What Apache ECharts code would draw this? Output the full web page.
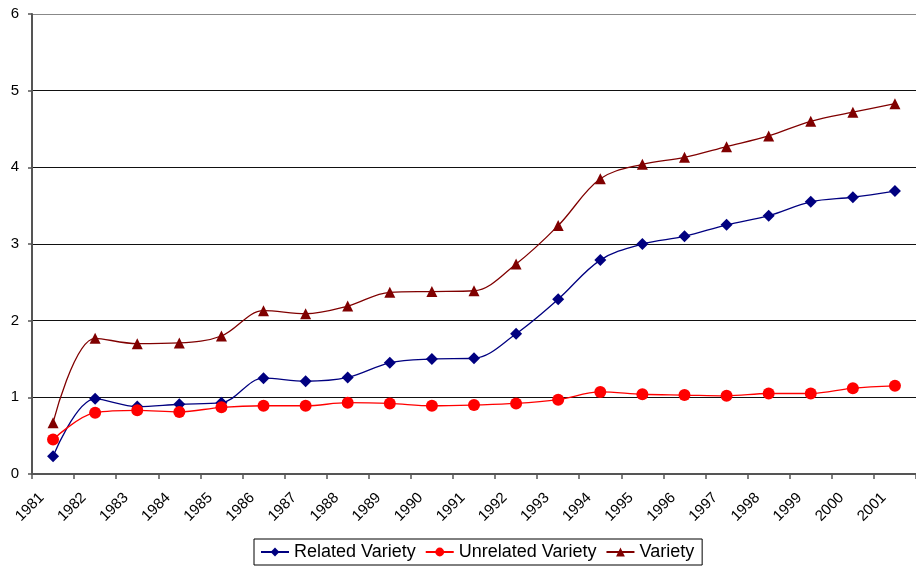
<!DOCTYPE html>
<html>
<head>
<meta charset="utf-8">
<script src="https://cdn.jsdelivr.net/npm/echarts@6/dist/echarts.min.js"></script>
<style>
html,body{margin:0;padding:0;background:#fff;}
#chart{width:916px;height:570px;}
</style>
</head>
<body>
<div id="chart"></div>
<script>
const years = ['1981','1982','1983','1984','1985','1986','1987','1988','1989','1990','1991','1992','1993','1994','1995','1996','1997','1998','1999','2000','2001'];
const relatedVariety = [0.23,0.98,0.88,0.91,0.93,1.25,1.21,1.26,1.45,1.50,1.51,1.83,2.28,2.79,3.00,3.10,3.25,3.37,3.55,3.61,3.69];
const unrelatedVariety = [0.45,0.80,0.83,0.81,0.87,0.89,0.89,0.93,0.92,0.89,0.90,0.92,0.97,1.07,1.04,1.03,1.02,1.05,1.05,1.12,1.15];
const variety = [0.67,1.77,1.70,1.71,1.80,2.13,2.09,2.19,2.37,2.38,2.39,2.74,3.24,3.85,4.04,4.13,4.27,4.41,4.60,4.72,4.83];
const yTicks = [0,1,2,3,4,5,6];

const chart = echarts.init(document.getElementById('chart'), null, {renderer:'canvas'});
const font = 'Liberation Sans, Arial, sans-serif';
function mk(name, data, color, symbol, size){
  return {
    name: name, type: 'line', data: data, smooth: 0.35,
    symbol: symbol, symbolSize: size, showSymbol: true,
    lineStyle: {color: color, width: 1.3},
    itemStyle: {color: color, borderWidth: 0},
    emphasis: {disabled: true},
    z: 3
  };
}
chart.setOption({
  animation: false,
  backgroundColor: '#fff',
  grid: {left: 32, top: 14, right: -11, bottom: 96, containLabel: false},
  legend: {
    left: 254, top: 539,
    padding: [4, 8, 4, 6],
    itemGap: 9, itemWidth: 28, itemHeight: 11,
    borderColor: '#000', borderWidth: 1,
    textStyle: {fontFamily: font, fontSize: 18, color: '#000', padding: [0,0,0,0]},
    data: ['Related Variety','Unrelated Variety','Variety']
  },
  xAxis: {
    type: 'category', data: years, boundaryGap: true,
    axisLine: {show: true, onZero: false, lineStyle: {color: '#555', width: 2}},
    axisTick: {show: true, length: 5, interval: 0, lineStyle: {color: '#555', width: 1.5}},
    axisLabel: {interval: 0, rotate: 45, margin: 10, padding: [0, 16, 0, 0], fontFamily: font, fontSize: 15, color: '#000'},
    splitLine: {show: false}
  },
  yAxis: {
    type: 'value', min: yTicks[0], max: yTicks[yTicks.length-1], interval: 1,
    axisLine: {show: true, lineStyle: {color: '#555', width: 2}},
    axisTick: {show: true, length: 4, lineStyle: {color: '#555', width: 1.5}},
    axisLabel: {margin: 13, fontFamily: font, fontSize: 15, color: '#000'},
    splitLine: {show: true, lineStyle: {color: ['#000','#111','#111','#111','#111','#111','#888'], width: 1}}
  },
  series: [
    mk('Related Variety', relatedVariety, '#000080', 'diamond', 12),
    mk('Unrelated Variety', unrelatedVariety, '#FF0000', 'circle', 12),
    mk('Variety', variety, '#800000', 'triangle', 11)
  ]
});
</script>
</body>
</html>
